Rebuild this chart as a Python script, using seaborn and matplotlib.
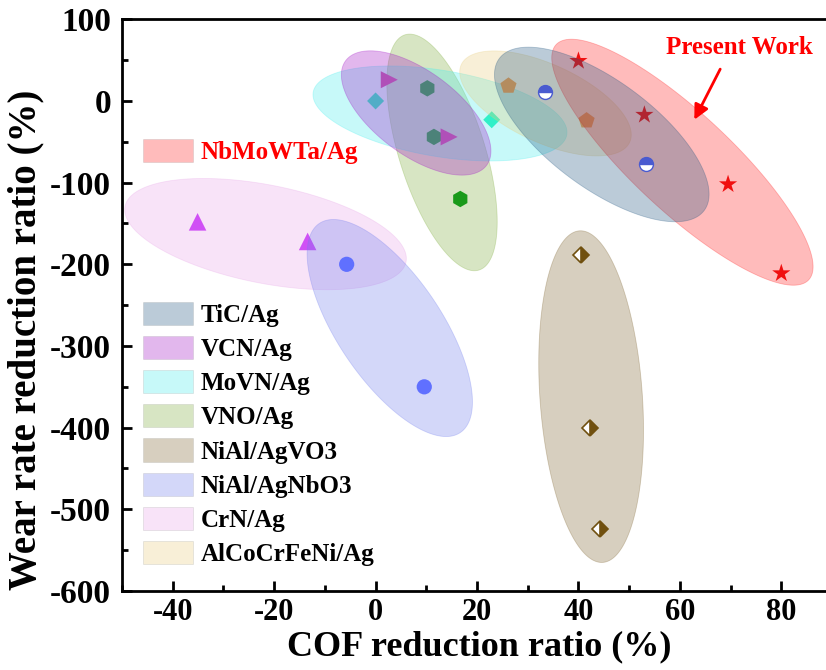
import numpy as np
import pandas as pd
import matplotlib
matplotlib.use("Agg")
import matplotlib.pyplot as plt
import matplotlib.patches as mpatches
import seaborn as sns

# values: COF reduction ratio (%) vs wear rate reduction ratio (%)
present_cof = [40, 53, 69.5, 80]
present_wear = [49, -17, -102, -211]
tic_cof = [33.4, 53.3]
tic_wear = [11, -77]
vcn_cof = [2.7, 14.5]
vcn_wear = [26, -44]
movn_cof = [0, 22.9]
movn_wear = [0, -23]
vno_cof = [10.2, 11.5, 16.7]
vno_wear = [15.5, -44, -120]
vo3_cof = [40.5, 42.3, 44.2]
vo3_wear = [-188, -400, -524]
nbo3_cof = [-5.7, 9.6]
nbo3_wear = [-200, -350]
crn_cof = [-35.1, -13.4]
crn_wear = [-148, -172]
alco_cof = [26.2, 41.6]
alco_wear = [18.5, -24]

x_ticks = [-40, -20, 0, 20, 40, 60, 80]
y_ticks = [-600, -500, -400, -300, -200, -100, 0, 100]

# shaded regions: centre, end of the long axis (data units), short/long ratio on screen
regions = {
    'NbMoWTa/Ag': ((60.5, -75), (85.4, -219), 0.285),
    'TiC/Ag': ((44.6, -41), (64.8, -134), 0.42),
    'VCN/Ag': ((8.0, -14.7), (21.9, -78.7), 0.477),
    'MoVN/Ag': ((12.7, -15.3), (37.7, -41.3), 0.335),
    'VNO/Ag': ((13.1, -63), (20.4, -207), 0.348),
    'NiAl/AgVO3': ((42.5, -362), (44.8, -565), 0.308),
    'NiAl/AgNbO3': ((2.8, -278), (16.7, -406), 0.413),
    'CrN/Ag': ((-21.7, -163), (6.0, -197), 0.343),
    'AlCoCrFeNi/Ag': ((33.5, -3), (50.1, -50.5), 0.42),
}

fills = {
    'NbMoWTa/Ag': '#ff2020',
    'TiC/Ag': '#205580',
    'VCN/Ag': '#a212c6',
    'MoVN/Ag': '#48eeee',
    'VNO/Ag': '#7dac3a',
    'NiAl/AgVO3': '#7d622d',
    'NiAl/AgNbO3': '#707dee',
    'CrN/Ag': '#e8a5e8',
    'AlCoCrFeNi/Ag': '#e8cd7d',
}

sns.set_theme(style="ticks")
plt.rcParams['font.family'] = ['Liberation Serif', 'DejaVu Serif']
plt.rcParams['font.weight'] = 'bold'
plt.rcParams['axes.labelweight'] = 'bold'
plt.rcParams['axes.unicode_minus'] = False
plt.rcParams['text.color'] = 'black'
plt.rcParams['axes.labelcolor'] = 'black'
plt.rcParams['xtick.color'] = 'black'
plt.rcParams['ytick.color'] = 'black'

fig = plt.figure(figsize=(8.26, 6.70), dpi=100)
ax = fig.add_axes([0.1477, 0.1179, 0.8596, 0.8533])
ax.set_xlim(-50, 90)
ax.set_ylim(-600, 100)


def draw_region(name, z):
    (cx, cy), (tx, ty), ratio = regions[name]
    T = ax.transData
    c = T.transform((cx, cy))
    u = T.transform((tx, ty)) - c
    v = np.array([-u[1], u[0]]) * ratio
    th = np.linspace(0, 2 * np.pi, 300)
    pts = c + np.outer(np.cos(th), u) + np.outer(np.sin(th), v)
    d = T.inverted().transform(pts)
    ax.fill(d[:, 0], d[:, 1], facecolor=fills[name], alpha=0.3,
            edgecolor=fills[name], linewidth=0.6, zorder=z)


def dots(x, y, marker, color, size, z):
    df = pd.DataFrame({'cof': x, 'wear': y})
    sns.scatterplot(data=df, x='cof', y='wear', marker=marker, color=color,
                    s=size, edgecolor='none', ax=ax, zorder=z, legend=False)


# drawing order decides how the translucent regions tint the markers
draw_region('VNO/Ag', 3)
dots(vno_cof, vno_wear, 'h', '#1a9a1a', 140, 4)
draw_region('MoVN/Ag', 5)
dots(movn_cof, movn_wear, 'D', '#30f0c8', 75, 6)
draw_region('VCN/Ag', 7)
dots(vcn_cof, vcn_wear, '>', '#b050b8', 150, 8)
draw_region('CrN/Ag', 9)
dots(crn_cof, crn_wear, '^', '#d050f5', 160, 10)
draw_region('NiAl/AgNbO3', 11)
dots(nbo3_cof, nbo3_wear, 'o', '#6070ff', 120, 12)
draw_region('NiAl/AgVO3', 13)
ax.plot(vo3_cof, vo3_wear, linestyle='none', marker='D', markersize=8.5,
        fillstyle='right', color='#70500f', markerfacecoloralt='white',
        markeredgewidth=1.2, zorder=14)
draw_region('AlCoCrFeNi/Ag', 15)
dots(alco_cof, alco_wear, 'p', '#f5a552', 150, 16)
draw_region('NbMoWTa/Ag', 17)
dots(present_cof, present_wear, '*', '#f01010', 190, 18)
draw_region('TiC/Ag', 19)
ax.plot(tic_cof, tic_wear, linestyle='none', marker='o', markersize=10,
        fillstyle='top', color='#4a5bd0', markerfacecoloralt='white',
        markeredgewidth=1.0, zorder=20)

ax.annotate('', xy=(62.6, -26), xytext=(68.2, 42),
            arrowprops=dict(arrowstyle='-|>', color='red', lw=2,
                            mutation_scale=22), zorder=25)
ax.text(71.7, 66, 'Present Work', color='red', fontsize=18,
        fontweight='bold', ha='center', va='center', zorder=25)

# axes
ax.set_xticks(x_ticks)
ax.set_yticks(y_ticks)
ax.set_xticks(np.arange(-50, 91, 10), minor=True)
ax.set_yticks(np.arange(-600, 101, 50), minor=True)
ax.tick_params(which='both', direction='in', top=False, right=False,
               width=2, color='black', labelcolor='black')
ax.tick_params(which='major', length=7)
ax.tick_params(which='minor', length=4)
ax.tick_params(axis='x', pad=5, labelsize=22)
ax.tick_params(axis='y', pad=8, labelsize=24)
for s in ax.spines.values():
    s.set_linewidth(2)
    s.set_color('black')

ax.set_xlabel('COF reduction ratio (%)', fontsize=26, fontweight='bold')
ax.set_ylabel('Wear rate reduction ratio (%)', fontsize=28, fontweight='bold')
ax.xaxis.set_label_coords(0.503, -0.068)
ax.yaxis.set_label_coords(-0.109, 0.44)

# legends
main_names = ['TiC/Ag', 'VCN/Ag', 'MoVN/Ag', 'VNO/Ag', 'NiAl/AgVO3',
              'NiAl/AgNbO3', 'CrN/Ag', 'AlCoCrFeNi/Ag']
handles = [mpatches.Patch(facecolor=fills[n], alpha=0.3, edgecolor='#999999',
                          linewidth=0.5, label=n) for n in main_names]
leg1 = ax.legend(handles=handles, loc='upper left',
                 bbox_to_anchor=(0.0296, 0.505), frameon=False,
                 fontsize=18, handlelength=2.0, handleheight=1.04,
                 handletextpad=0.3, labelspacing=0.36, borderpad=0,
                 borderaxespad=0)
leg1.set_zorder(30)
ax.add_artist(leg1)

top_handle = [mpatches.Patch(facecolor=fills['NbMoWTa/Ag'], alpha=0.3,
                             edgecolor='#999999', linewidth=0.5,
                             label='NbMoWTa/Ag')]
leg2 = ax.legend(handles=top_handle, loc='upper left',
                 bbox_to_anchor=(0.0296, 0.79), frameon=False,
                 fontsize=18, handlelength=2.0, handleheight=1.04,
                 handletextpad=0.3, borderpad=0, borderaxespad=0)
leg2.get_texts()[0].set_color('red')
leg2.set_zorder(30)

fig.savefig('out.png', dpi=100)
